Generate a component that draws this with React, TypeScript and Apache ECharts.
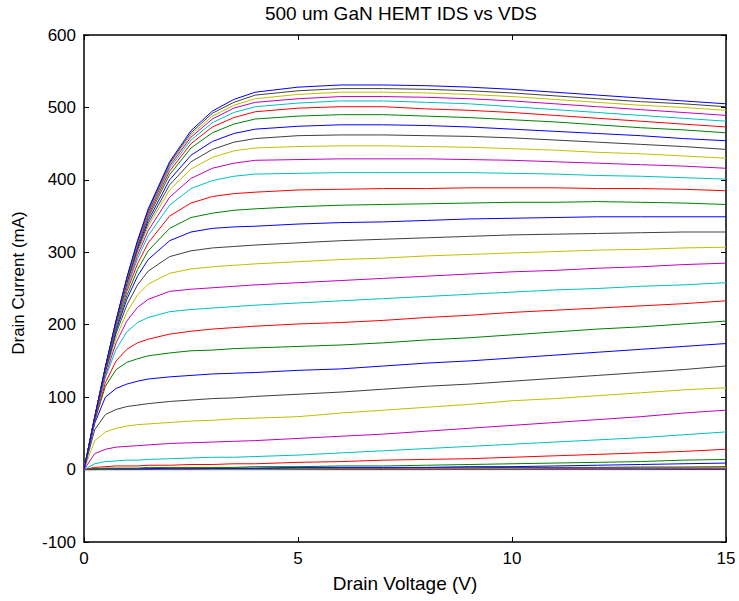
import React, { useEffect, useRef } from "react";
import * as echarts from "echarts";

// Drain voltage sample points (V)
const VDS = [0, 0.25, 0.5, 0.75, 1, 1.25, 1.5, 2, 2.5, 3, 3.5, 4, 5, 6, 7, 8, 9, 10, 11, 12, 13, 14, 15];

// Drain current curves (mA), c01 = highest gate bias ... c36 = lowest
const c01 = [0, 72, 142, 206, 265, 316, 360, 425, 468, 495, 511, 521, 528, 531, 531, 530, 528, 525, 521, 517, 513, 509, 505];
const c02 = [0, 72, 141, 206, 264, 315, 358, 423, 465, 492, 507, 517, 523, 526, 526, 525, 523, 520, 516, 512, 508, 505, 501];
const c03 = [0, 72, 141, 206, 263, 314, 357, 421, 462, 488, 503, 512, 518, 521, 521, 520, 518, 515, 511, 507, 503, 500, 496];
const c04 = [0, 72, 141, 205, 263, 313, 355, 419, 459, 484, 499, 507, 512, 515, 515, 514, 512, 509, 505, 501, 497, 493, 489];
const c05 = [0, 72, 141, 205, 262, 312, 354, 416, 455, 479, 493, 501, 506, 509, 509, 507, 505, 501, 497, 493, 489, 485, 481];
const c06 = [0, 72, 141, 204, 261, 310, 351, 412, 450, 473, 486, 494, 499, 501, 501, 498, 496, 493, 489, 485, 481, 477, 473];
const c07 = [0, 72, 141, 204, 260, 309, 348, 407, 444, 465, 477, 484, 488, 490, 490, 488, 486, 483, 480, 476, 472, 469, 465];
const c08 = [0, 72, 140, 203, 259, 306, 344, 400, 434, 453, 464, 470, 474, 476, 476, 475, 473, 470, 467, 464, 461, 457, 454];
const c09 = [0, 72, 140, 203, 257, 303, 340, 393, 425, 442, 452, 457, 461, 462, 462, 461, 460, 458, 455, 452, 449, 446, 442];
const c10 = [0, 72, 140, 202, 255, 300, 336, 386, 415, 431, 440, 444, 446, 447, 447, 446, 445, 443, 441, 438, 436, 433, 430];
const c11 = [0, 72, 140, 201, 253, 296, 330, 376, 402, 416, 423, 427, 428, 429, 429, 429, 428, 427, 425, 423, 421, 419, 416];
const c12 = [0, 72, 139, 199, 250, 291, 323, 365, 388, 399, 405, 408, 409, 410, 410, 410, 410, 409, 408, 406, 405, 403, 401];
const c13 = [0, 72, 139, 198, 246, 284, 313, 350, 368, 377, 381, 383, 386, 387, 388, 388, 389, 389, 389, 388, 388, 387, 385];
const c14 = [0, 71, 138, 195, 240, 276, 302, 333, 348, 354, 358, 360, 363, 365, 366, 367, 368, 369, 369, 370, 369, 368, 366];
const c15 = [0, 71, 137, 192, 235, 267, 290, 316, 328, 333, 335, 336, 339, 341, 342, 344, 346, 347, 348, 349, 349, 349, 349];
const c16 = [0, 71, 135, 188, 227, 255, 274, 294, 302, 306, 308, 310, 313, 316, 318, 320, 322, 324, 325, 326, 327, 328, 328];
const c17 = [0, 71, 133, 182, 217, 241, 256, 271, 277, 280, 282, 284, 287, 290, 292, 295, 297, 299, 301, 303, 304, 306, 307];
const c18 = [0, 70, 130, 175, 205, 224, 235, 246, 249, 251, 253, 255, 258, 261, 264, 267, 270, 273, 275, 278, 280, 283, 285];
const c19 = [0, 70, 127, 166, 190, 203, 210, 218, 221, 223, 225, 227, 230, 233, 236, 239, 242, 245, 248, 250, 253, 255, 258];
const c20 = [0, 68, 120, 150, 166, 175, 180, 187, 191, 194, 196, 198, 201, 203, 206, 210, 213, 217, 220, 223, 226, 229, 233];
const c21 = [0, 67, 115, 138, 148, 153, 157, 161, 164, 165, 167, 168, 170, 172, 175, 179, 182, 186, 190, 194, 197, 201, 205];
const c22 = [0, 64, 100, 112, 118, 122, 125, 128, 130, 132, 133, 134, 137, 139, 143, 147, 150, 154, 158, 162, 166, 170, 174];
const c23 = [0, 55, 76, 83, 87, 89, 91, 94, 96, 98, 99, 101, 104, 107, 111, 115, 118, 122, 126, 130, 134, 138, 143];
const c24 = [0, 40, 52, 57, 60, 62, 63, 65, 67, 68, 70, 71, 73, 78, 82, 86, 90, 95, 98, 102, 106, 110, 113];
const c25 = [0, 22, 28, 31, 32, 33, 34, 36, 37, 38, 39, 40, 43, 46, 49, 53, 57, 61, 65, 69, 73, 78, 82];
const c26 = [0, 8, 11, 12, 13, 13, 14, 15, 16, 17, 17, 18, 20, 23, 26, 29, 32, 35, 38, 41, 44, 48, 52];
const c27 = [0, 3, 4, 5, 5, 5, 6, 6, 7, 7, 8, 8, 10, 11, 13, 14, 15, 17, 19, 21, 23, 25, 28];
const c28 = [0, 1, 2, 2, 2, 2, 3, 3, 3, 3, 3, 4, 4, 5, 5, 6, 7, 8, 9, 10, 11, 13, 14];
const c29 = [0, 1, 1, 1, 1, 1, 1, 2, 2, 2, 2, 2, 3, 3, 3, 3, 4, 4, 5, 6, 7, 8, 9];
const c30 = [0, 0.5, 1, 1, 1, 1, 1, 1, 1, 1.5, 1.5, 1.5, 2, 2, 2, 2.5, 2.5, 3, 3, 3, 3.5, 3.5, 4];
const c31 = [0, 0.5, 0.5, 1, 1, 1, 1, 1, 1, 1, 1, 1, 1.5, 1.5, 1.5, 2, 2, 2, 2.5, 2.5, 3, 3, 3];
const c32 = [0, 0, 0.5, 0.5, 0.5, 0.5, 0.5, 0.5, 0.5, 1, 1, 1, 1, 1, 1, 1, 1.5, 1.5, 1.5, 1.5, 2, 2, 2];
const c33 = [0, 0, 0, 0.5, 0.5, 0.5, 0.5, 0.5, 0.5, 0.5, 0.5, 0.5, 0.5, 1, 1, 1, 1, 1, 1, 1, 1, 1.5, 1.5];
const c34 = [0, 0, 0, 0, 0, 0, 0.5, 0.5, 0.5, 0.5, 0.5, 0.5, 0.5, 0.5, 0.5, 0.5, 0.5, 1, 1, 1, 1, 1, 1];
const c35 = [0, 0, 0, 0, 0, 0, 0, 0, 0, 0, 0, 0, 0, 0, 0, 0, 0.5, 0.5, 0.5, 0.5, 0.5, 0.5, 0.5];
const c36 = [0, 0, 0, 0, 0, 0, 0, 0, 0, 0, 0, 0, 0, 0, 0, 0, 0, 0, 0, 0, 0, 0, 0];

// plotting order: lowest gate bias first
const CURVES = [c36, c35, c34, c33, c32, c31, c30, c29, c28, c27, c26, c25, c24, c23, c22, c21, c20, c19, c18, c17, c16, c15, c14, c13, c12, c11, c10, c09, c08, c07, c06, c05, c04, c03, c02, c01];

// MATLAB classic colour order b, g, r, c, m, y, k
const COLORS = ["#0000ff", "#008000", "#ff0000", "#00bfbf", "#bf00bf", "#bfbf00", "#404040"];

const TITLE = "500 um GaN HEMT IDS vs VDS";
const X_NAME = "Drain Voltage (V)";
const Y_NAME = "Drain Current (mA)";

const FONT = "'Liberation Sans', Arial, Helvetica, sans-serif";

export default function App() {
  const ref = useRef<HTMLDivElement>(null);

  useEffect(() => {
    if (!ref.current) return;
    const chart = echarts.init(ref.current, undefined, { renderer: "svg" });

    const axisLine = { show: true, onZero: false, lineStyle: { color: "#000", width: 1.5 } };
    const axisTick = { show: true, inside: true, length: 5, lineStyle: { color: "#000", width: 1 } };

    const series = CURVES.map((c, i) => ({
      type: "line",
      data: VDS.map((x, j) => [x, c[j]]),
      showSymbol: false,
      symbol: "none",
      silent: true,
      xAxisIndex: 0,
      yAxisIndex: 0,
      lineStyle: { width: 1, color: COLORS[i % COLORS.length] },
      itemStyle: { color: COLORS[i % COLORS.length] },
    }));

    chart.setOption({
      animation: false,
      backgroundColor: "#ffffff",
      title: {
        text: TITLE,
        left: 401,
        top: 4,
        textAlign: "center",
        padding: 0,
        textStyle: { color: "#000", fontSize: 19, fontWeight: "normal", fontFamily: FONT },
      },
      grid: { left: 84, right: 13, top: 35, bottom: 59, containLabel: false, outerBoundsMode: "none" },
      graphic: [
        {
          type: "text",
          x: 18,
          y: 283,
          rotation: Math.PI / 2,
          silent: true,
          style: {
            text: Y_NAME,
            fill: "#000",
            fontSize: 17,
            fontFamily: FONT,
            align: "center",
            verticalAlign: "middle",
          },
        },
      ],
      xAxis: [
        {
          type: "value",
          min: 0,
          max: 15,
          interval: 5,
          position: "bottom",
          axisLine,
          axisTick,
          splitLine: { show: false },
          axisLabel: { color: "#000", fontSize: 17, fontFamily: FONT, margin: 8 },
          name: X_NAME,
          nameLocation: "middle",
          nameGap: 32,
          nameTextStyle: { color: "#000", fontSize: 19, fontFamily: FONT },
        },
        {
          type: "value",
          min: 0,
          max: 15,
          interval: 5,
          position: "top",
          axisLine,
          axisTick,
          splitLine: { show: false },
          axisLabel: { show: false },
        },
      ],
      yAxis: [
        {
          type: "value",
          min: -100,
          max: 600,
          interval: 100,
          position: "left",
          axisLine,
          axisTick,
          splitLine: { show: false },
          axisLabel: { color: "#000", fontSize: 17, fontFamily: FONT, margin: 8 },
        },
        {
          type: "value",
          min: -100,
          max: 600,
          interval: 100,
          position: "right",
          axisLine,
          axisTick,
          splitLine: { show: false },
          axisLabel: { show: false },
        },
      ],
      series,
    });

    return () => {
      chart.dispose();
    };
  }, []);

  return (
    <div
      ref={ref}
      style={{ position: "fixed", left: 0, top: 0, width: 739, height: 601, background: "#fff" }}
    />
  );
}
